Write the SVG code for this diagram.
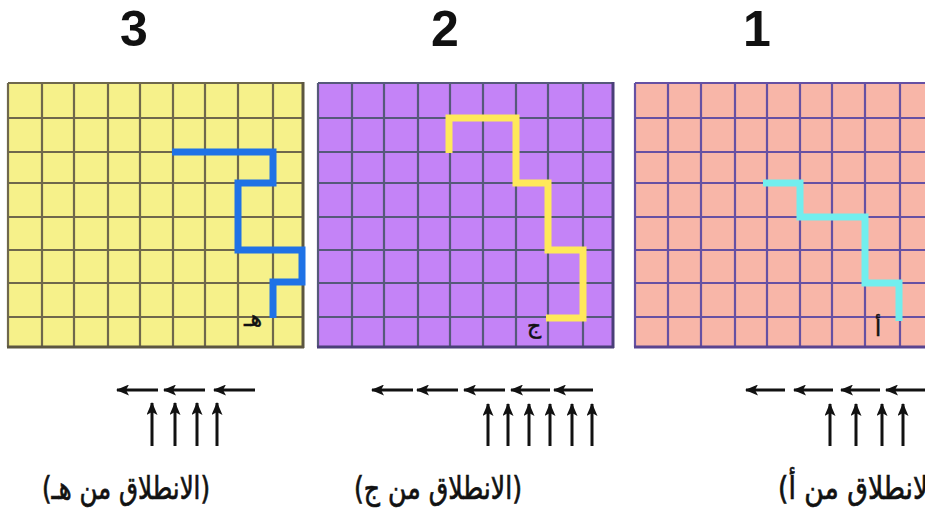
<svg xmlns="http://www.w3.org/2000/svg" width="925" height="515" viewBox="0 0 925 515">
<defs>
<style>
.num{font-family:"Liberation Sans",Arial,sans-serif;font-weight:bold;font-size:50px;fill:#111;text-anchor:middle}
.lbl{font-family:"DejaVu Sans",sans-serif;font-size:27px;fill:#111;text-anchor:middle;stroke:#111;stroke-width:0.6}
.let{font-family:"DejaVu Sans",sans-serif;font-size:22px;fill:#111;text-anchor:middle;stroke:#111;stroke-width:0.5}
.arr{stroke:#111;stroke-width:3;fill:none;marker-end:url(#ah)}
.path{fill:none;stroke-width:7;stroke-linejoin:miter;stroke-linecap:butt}
</style>
<marker id="ah" markerWidth="13" markerHeight="11" refX="12" refY="5.5" orient="auto" markerUnits="userSpaceOnUse">
<path d="M0,0 L13,5.5 L0,11 L3,5.5 z" fill="#111"/>
</marker>
</defs>
<rect width="925" height="515" fill="#ffffff"/>

<g id="num3"><text class="num" x="134" y="46">3</text></g>
<g id="num2"><text class="num" x="445" y="46">2</text></g>
<g id="num1"><text class="num" x="757" y="46">1</text></g>

<g id="grid3">
<rect x="8" y="83" width="295" height="264" fill="#f6f18a"/>
<path d="M8,83V347M42,83V347M74,83V347M108,83V347M140,83V347M173,83V347M205,83V347M238,83V347M273,83V347M8,83H303M8,118H303M8,152H303M8,183H303M8,217H303M8,250H303M8,283H303M8,317H303" stroke="#6f684c" stroke-width="2.2" fill="none"/>
<path d="M303,82V348M7,347H304" stroke="#5c5640" stroke-width="3" fill="none"/>
<path class="path" stroke="#1f72e6" d="M172,152H273V183H238V250H302V282H273V318"/>
<text class="let" x="253" y="326">هـ</text>
</g>

<g id="grid2">
<rect x="318" y="83" width="295" height="264" fill="#c483f7"/>
<path d="M318,83V347M352,83V347M384,83V347M418,83V347M450,83V347M483,83V347M516,83V347M548,83V347M583,83V347M318,83H613M318,118H613M318,152H613M318,183H613M318,217H613M318,250H613M318,283H613M318,317H613" stroke="#56597a" stroke-width="2.2" fill="none"/>
<path d="M613,82V348M317,347H614" stroke="#4a3f78" stroke-width="3" fill="none"/>
<path class="path" stroke="#ffe95a" d="M449,153V118H516V183H548V250H583V318H546"/>
<text class="let" x="534" y="333">ج</text>
</g>

<g id="grid1">
<rect x="635" y="83" width="295" height="264" fill="#f8b6a8"/>
<path d="M635,83V347M668,83V347M701,83V347M735,83V347M767,83V347M800,83V347M832,83V347M865,83V347M900,83V347M635,83H930M635,118H930M635,152H930M635,183H930M635,217H930M635,250H930M635,283H930M635,317H930" stroke="#6650a3" stroke-width="2.2" fill="none"/>
<path d="M634,347H930" stroke="#5a4490" stroke-width="3" fill="none"/>
<path class="path" stroke="#72eeee" d="M763,183H800V217H865V283H899V321"/>
<text class="let" x="878" y="336">أ</text>
</g>

<g id="connectors">
<line class="arr" x1="158" y1="390" x2="117" y2="390"/>
<line class="arr" x1="205" y1="390" x2="164" y2="390"/>
<line class="arr" x1="255" y1="390" x2="214" y2="390"/>
<line class="arr" x1="152" y1="446" x2="152" y2="403"/>
<line class="arr" x1="175" y1="446" x2="175" y2="403"/>
<line class="arr" x1="197" y1="446" x2="197" y2="403"/>
<line class="arr" x1="217" y1="446" x2="217" y2="403"/>

<line class="arr" x1="413" y1="390" x2="372" y2="390"/>
<line class="arr" x1="458" y1="390" x2="417" y2="390"/>
<line class="arr" x1="505" y1="390" x2="464" y2="390"/>
<line class="arr" x1="550" y1="390" x2="511" y2="390"/>
<line class="arr" x1="593" y1="390" x2="554" y2="390"/>
<line class="arr" x1="488" y1="446" x2="488" y2="404"/>
<line class="arr" x1="508" y1="446" x2="508" y2="404"/>
<line class="arr" x1="529" y1="446" x2="529" y2="404"/>
<line class="arr" x1="550" y1="446" x2="550" y2="404"/>
<line class="arr" x1="572" y1="446" x2="572" y2="404"/>
<line class="arr" x1="592" y1="446" x2="592" y2="404"/>

<line class="arr" x1="785" y1="390" x2="746" y2="390"/>
<line class="arr" x1="833" y1="390" x2="794" y2="390"/>
<line class="arr" x1="880" y1="390" x2="841" y2="390"/>
<line class="arr" x1="930" y1="390" x2="886" y2="390"/>
<line class="arr" x1="830" y1="446" x2="830" y2="404"/>
<line class="arr" x1="856" y1="446" x2="856" y2="404"/>
<line class="arr" x1="882" y1="446" x2="882" y2="404"/>
<line class="arr" x1="903" y1="446" x2="903" y2="404"/>
</g>

<g id="label3" transform="translate(0,499) scale(1,1.18)"><text class="lbl" x="126" y="0" textLength="168" lengthAdjust="spacingAndGlyphs">(الانطلاق من هـ)</text></g>
<g id="label2" transform="translate(0,499) scale(1,1.18)"><text class="lbl" x="438" y="0" textLength="168" lengthAdjust="spacingAndGlyphs">(الانطلاق من ج)</text></g>
<g id="label1" transform="translate(0,499) scale(1,1.18)"><text class="lbl" x="862" y="0" textLength="168" lengthAdjust="spacingAndGlyphs">(الانطلاق من أ)</text></g>
</svg>
